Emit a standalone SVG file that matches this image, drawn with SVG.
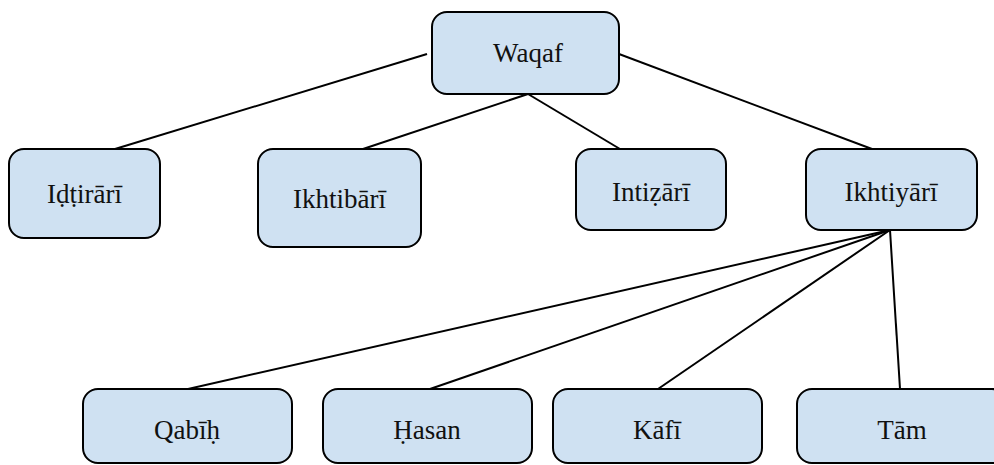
<svg xmlns="http://www.w3.org/2000/svg" width="994" height="465" viewBox="0 0 994 465">
<style>
.box{fill:#cfe1f2;stroke:#000;stroke-width:2}
.con line{stroke:#000;stroke-width:2}
</style>
<rect width="994" height="465" fill="#fff"/>
<g class="con" id="connectors">
<line x1="427" y1="54" x2="115" y2="149"/>
<line x1="528" y1="94" x2="363" y2="149"/>
<line x1="528" y1="94" x2="620" y2="149"/>
<line x1="619" y1="54" x2="872" y2="149"/>
<line x1="890" y1="230" x2="188" y2="389"/>
<line x1="890" y1="230" x2="430" y2="389"/>
<line x1="890" y1="230" x2="658" y2="389"/>
<line x1="890" y1="230" x2="900" y2="389"/>
</g>
<g font-family="Liberation Serif, Times New Roman, serif" font-size="27" fill="#111" text-anchor="middle">
<g id="waqaf"><rect class="box" x="432" y="12" width="187" height="82" rx="15"/><text x="528" y="62">Waqaf</text></g>
<g id="idtirari"><rect class="box" x="9" y="149" width="151" height="89" rx="15"/><text x="84.5" y="203">Iḍṭirārī</text></g>
<g id="ikhtibari"><rect class="box" x="258" y="149" width="163" height="98" rx="15"/><text x="339.5" y="208">Ikhtibārī</text></g>
<g id="intizari"><rect class="box" x="576" y="149" width="150" height="81" rx="15"/><text x="651" y="201">Intiẓārī</text></g>
<g id="ikhtiyari"><rect class="box" x="806" y="149" width="171" height="81" rx="15"/><text x="891" y="201">Ikhtiyārī</text></g>
<g id="qabih"><rect class="box" x="83" y="389" width="209" height="74" rx="15"/><text x="187" y="439">Qabīḥ</text></g>
<g id="hasan"><rect class="box" x="323" y="389" width="209" height="74" rx="15"/><text x="427" y="439">Ḥasan</text></g>
<g id="kafi"><rect class="box" x="553" y="389" width="209" height="74" rx="15"/><text x="657" y="439">Kāfī</text></g>
<g id="tam"><rect class="box" x="797" y="389" width="210" height="74" rx="15"/><text x="902" y="439">Tām</text></g>
</g>
</svg>
